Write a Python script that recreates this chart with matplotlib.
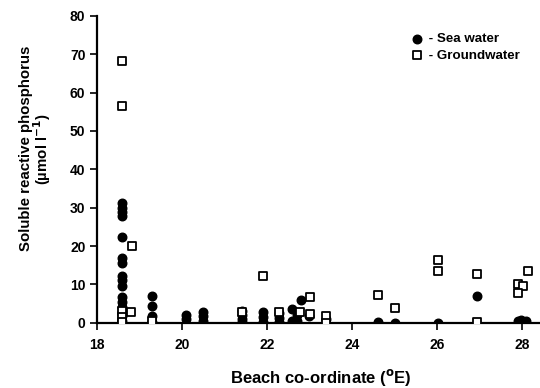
import matplotlib.pyplot as plt

plt.rcParams['font.family'] = ['Liberation Sans', 'DejaVu Sans']
plt.rcParams['font.weight'] = 'bold'

# sea water (filled circles)
sea_x = [18.58, 18.58, 18.58, 18.58, 18.58, 18.58, 18.58, 18.58, 18.58, 18.58,
         18.58, 18.58, 18.58, 18.58, 18.58, 18.58,
         19.29, 19.29, 19.29, 19.29,
         20.09, 20.09, 20.48, 20.48, 20.48,
         21.4, 21.4, 21.4, 21.4,
         21.89, 21.89, 21.89,
         22.28, 22.28, 22.28, 22.58, 22.58, 22.7, 22.7, 22.79, 22.99,
         23.39, 24.6, 25.0, 26.03, 26.93,
         27.9, 27.97, 28.03, 28.1]
sea_y = [31.2, 30.0, 28.9, 27.8, 22.4, 16.8, 15.5, 12.2, 11.2, 9.6,
         6.8, 5.5, 4.2, 2.9, 1.7, 0.4,
         7.0, 4.4, 1.7, 0.3,
         2.1, 1.0, 2.9, 1.7, 0.4,
         3.0, 2.0, 1.0, 0.1,
         2.8, 1.5, 0.3,
         2.5, 1.2, 0.2, 3.6, 0.5, 2.0, 0.5, 5.9, 1.8,
         1.0, 0.3, 0.0, 0.0, 7.1,
         0.5, 0.8, 0.3, 0.5]

# groundwater (open squares)
gw_x = [18.58, 18.58, 18.82, 18.58, 18.58, 18.58, 18.8, 19.29,
        21.4, 21.91, 22.28, 22.78, 23.0, 23.0, 23.39, 23.39,
        24.6, 25.0, 26.03, 26.03, 26.93, 26.93,
        28.13, 27.91, 28.03, 27.91]
gw_y = [68.3, 56.4, 20.0, 3.0, 1.5, 0.3, 2.7, 0.5,
        2.9, 12.2, 2.7, 2.7, 6.7, 2.2, 1.9, 0.0,
        7.2, 3.9, 16.5, 13.6, 12.8, 0.1,
        13.5, 10.1, 9.6, 7.9]

fig = plt.figure(figsize=(5.4, 3.88), dpi=100)
ax = fig.add_axes([0.18, 0.168, 0.82, 0.791])

ax.scatter(sea_x, sea_y, s=38, marker='o', color='black', zorder=3, label=' - Sea water')
ax.scatter(gw_x, gw_y, s=34, marker='s', facecolor='white', edgecolor='black',
           linewidth=1.3, zorder=4, label=' - Groundwater')

ax.set_xlim(18, 28.42)
ax.set_ylim(0, 80)
ax.set_xticks([18, 20, 22, 24, 26, 28])
ax.set_yticks(range(0, 81, 10))
ax.spines['top'].set_visible(False)
ax.spines['right'].set_visible(False)
ax.spines['left'].set_linewidth(1.6)
ax.spines['bottom'].set_linewidth(1.6)
ax.tick_params(direction='out', length=5, width=1.2, labelsize=10)
ax.tick_params(axis='x', pad=6)

ax.set_xlabel('Beach co-ordinate ($\\mathbf{^{o}}$E)', fontsize=12, fontweight='bold')
ax.xaxis.set_label_coords(0.505, -0.145)
ax.set_ylabel('Soluble reactive phosphorus\n(µmol l$\\mathbf{^{-1}}$)', fontsize=10.8,
              fontweight='bold', linespacing=0.9)
ax.yaxis.set_label_coords(-0.1, 0.567)

ax.legend(loc='upper right', bbox_to_anchor=(0.975, 0.975), frameon=False, fontsize=9.6,
          handletextpad=0.0, borderaxespad=0.3, labelspacing=0.3, handlelength=1.2)

fig.savefig('out.png', dpi=100)
